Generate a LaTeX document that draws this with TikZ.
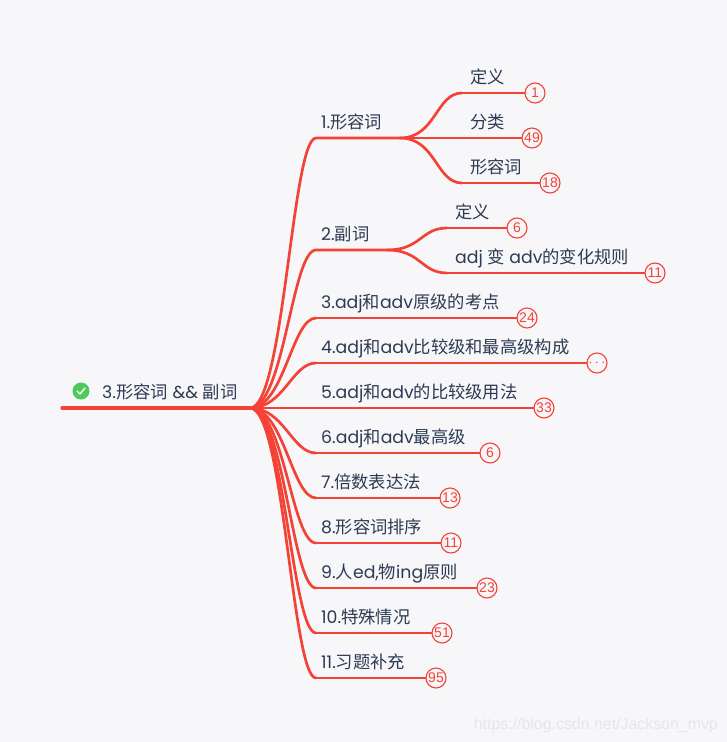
\documentclass[tikz,border=0pt]{standalone}
\usetikzlibrary{calc}
\usepackage{fontspec}
\setmainfont{Poppins}
\newfontfamily\cjk{Noto Sans CJK SC}
\newfontfamily\badgefont{Liberation Sans}
\newcommand{\zh}[1]{{\cjk #1}}
\definecolor{canvas}{HTML}{F7F7FA}
\definecolor{inkblue}{HTML}{2C3A52}
\definecolor{mapred}{HTML}{F44336}
\definecolor{okgreen}{HTML}{4CCB5A}
\definecolor{markgray}{HTML}{E6E6EA}
\tikzset{
    topic/.style={
        anchor=base west, inner sep=0pt, text=inkblue,
        font=\fontsize{17.3}{20}\selectfont
    },
    badge/.style={
        circle, draw=mapred, fill=canvas, line width=1.1pt,
        minimum size=20pt, inner sep=0pt, text=mapred,
        font=\fontsize{14}{15}\badgefont
    },
    branch/.style={draw=mapred, line width=2.7pt, line cap=round},
    limb/.style={draw=mapred, line width=3.2pt, line cap=round}
}
\begin{document}
\begin{tikzpicture}[x=1pt, y=-1pt]
    \fill[canvas] (0,0) rectangle (727,742);
    \useasboundingbox (0,0) rectangle (727,742);

    % root
    \node[topic] (root) at (102,398) {3.\zh{形容词} \&\& \zh{副词}};
    \node[circle, fill=okgreen, minimum size=17pt, inner sep=0pt] (tick) at (81,391) {};
    \draw[white, line width=1.4pt, line cap=round, line join=round]
        ($(tick.center)+(-4,0)$) -- ($(tick.center)+(-1,3)$) -- ($(tick.center)+(4,-3)$);
    \coordinate (start) at (62,408);
    \coordinate (hub) at (250,408);

    % first level labels
    \node[topic] (t1) at (321,128) {1.\zh{形容词}};
    \node[topic] (t2) at (321,240) {2.\zh{副词}};
    \node[topic] (t3) at (321,308) {3.adj\zh{和}adv\zh{原级的考点}};
    \node[topic] (t4) at (321,353) {4.adj\zh{和}adv\zh{比较级和最高级构成}};
    \node[topic] (t5) at (321,398) {5.adj\zh{和}adv\zh{的比较级用法}};
    \node[topic] (t6) at (321,443) {6.adj\zh{和}adv\zh{最高级}};
    \node[topic] (t7) at (321,488) {7.\zh{倍数表达法}};
    \node[topic] (t8) at (321,533) {8.\zh{形容词排序}};
    \node[topic] (t9) at (321,578) {9.\zh{人}ed,\zh{物}ing\zh{原则}};
    \node[topic] (t10) at (321,623) {10.\zh{特殊情况}};
    \node[topic] (t11) at (321,668) {11.\zh{习题补充}};

    % second level labels
    \node[topic] (s1) at (470,83) {\zh{定义}};
    \node[topic] (s2) at (470,128) {\zh{分类}};
    \node[topic] (s3) at (470,173) {\zh{形容词}};
    \node[topic] (s4) at (455,218) {\zh{定义}};
    \node[topic] (s5) at (455,263) {adj \zh{变} adv\zh{的变化规则}};

    % knees
    \coordinate (k1) at (316,138);
    \coordinate (k2) at (316,250);
    \coordinate (k3) at (316,318);
    \coordinate (k4) at (316,363);
    \coordinate (k6) at (316,453);
    \coordinate (k7) at (316,498);
    \coordinate (k8) at (316,543);
    \coordinate (k9) at (316,588);
    \coordinate (k10) at (316,633);
    \coordinate (k11) at (316,678);
    \coordinate (h1) at (400,138);
    \coordinate (h2) at (387,250);
    \coordinate (m1) at (462,93);
    \coordinate (m3) at (462,183);
    \coordinate (m4) at (447,228);
    \coordinate (m5) at (447,273);

    % connectors
    \draw[limb] (start) -- (hub);
    \draw[branch] (hub) .. controls +(34,0) and +(-24,0) .. (k1) -- (h1);
    \draw[branch] (hub) .. controls +(34,0) and +(-24,0) .. (k2) -- (h2);
    \draw[branch] (hub) .. controls +(34,0) and +(-24,0) .. (k3);
    \draw[branch] (hub) .. controls +(34,0) and +(-24,0) .. (k4);
    \draw[branch] (hub) .. controls +(34,0) and +(-24,0) .. (k6);
    \draw[branch] (hub) .. controls +(34,0) and +(-24,0) .. (k7);
    \draw[branch] (hub) .. controls +(34,0) and +(-24,0) .. (k8);
    \draw[branch] (hub) .. controls +(34,0) and +(-24,0) .. (k9);
    \draw[branch] (hub) .. controls +(34,0) and +(-24,0) .. (k10);
    \draw[branch] (hub) .. controls +(34,0) and +(-24,0) .. (k11);
    \draw[branch] (h1) .. controls +(36,0) and +(-26,0) .. (m1);
    \draw[branch] (h1) .. controls +(36,0) and +(-26,0) .. (m3);
    \draw[branch] (h2) .. controls +(34,0) and +(-26,0) .. (m4);
    \draw[branch] (h2) .. controls +(34,0) and +(-26,0) .. (m5);

    % counts
    \node[badge] (c1) at (535,93) {1};
    \node[badge] (c2) at (532,138) {49};
    \node[badge] (c3) at (550,183) {18};
    \node[badge] (c4) at (517,228) {6};
    \node[badge] (c5) at (655,273) {11};
    \node[badge] (c6) at (527,318) {24};
    \node[badge] (c7) at (597,363) {$\cdots$};
    \node[badge] (c8) at (544,408) {33};
    \node[badge] (c9) at (490,453) {6};
    \node[badge] (c10) at (450,498) {13};
    \node[badge] (c11) at (451,543) {11};
    \node[badge] (c12) at (487,588) {23};
    \node[badge] (c13) at (442,633) {51};
    \node[badge] (c14) at (436,678) {95};

    \draw[branch] (m1) -- (c1);
    \draw[branch] (h1) -- (c2);
    \draw[branch] (m3) -- (c3);
    \draw[branch] (m4) -- (c4);
    \draw[branch] (m5) -- (c5);
    \draw[branch] (k3) -- (c6);
    \draw[branch] (k4) -- (c7);
    \draw[branch] (hub) -- (c8);
    \draw[branch] (k6) -- (c9);
    \draw[branch] (k7) -- (c10);
    \draw[branch] (k8) -- (c11);
    \draw[branch] (k9) -- (c12);
    \draw[branch] (k10) -- (c13);
    \draw[branch] (k11) -- (c14);

    \node[anchor=base east, inner sep=0pt, text=markgray, font=\fontsize{15.9}{17}\badgefont] (mark) at (718,729) {https://blog.csdn.net/Jackson\_mvp};
\end{tikzpicture}
\end{document}
